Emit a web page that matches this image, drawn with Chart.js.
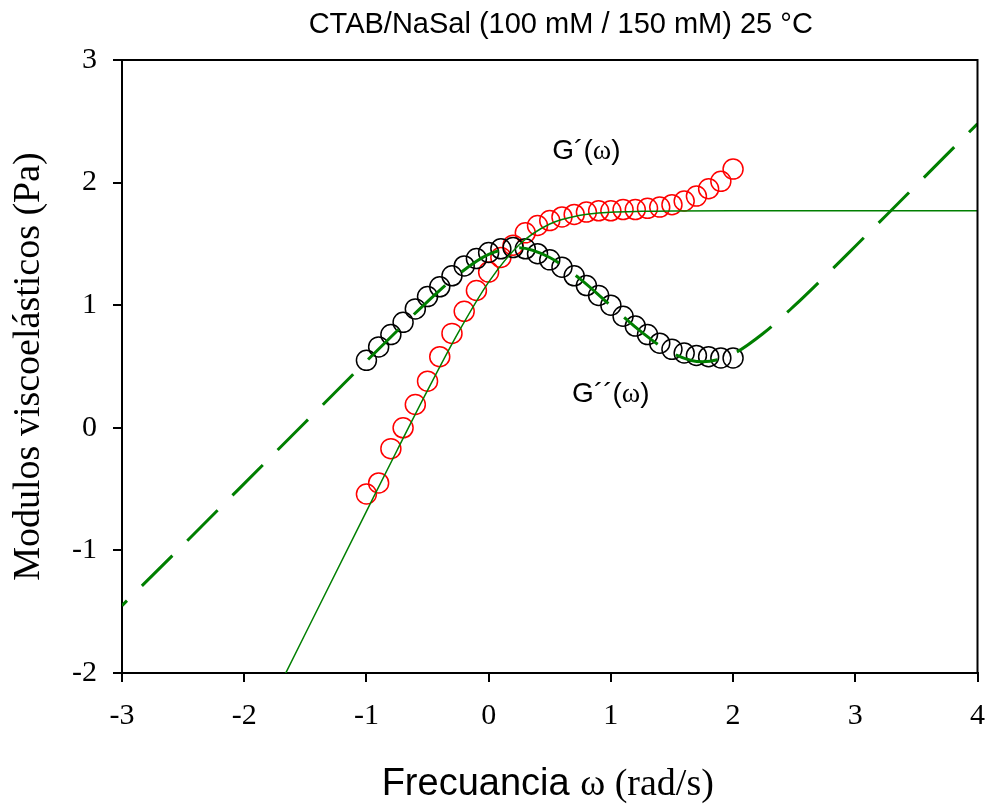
<!DOCTYPE html>
<html>
<head>
<meta charset="utf-8">
<script src="https://cdn.jsdelivr.net/npm/chart.js@4"></script>
<style>
  html, body { margin: 0; padding: 0; background: #fff; }
  #wrap { width: 989px; height: 807px; position: relative; }
</style>
</head>
<body>
<div id="wrap"><canvas id="chart"></canvas></div>
<script>
// log10 frecuencia (puntos experimentales)
const omega = [-1.0, -0.9, -0.8, -0.7, -0.6, -0.5, -0.4, -0.3, -0.2, -0.1,
               0.0, 0.1, 0.2, 0.3, 0.4, 0.5, 0.6, 0.7, 0.8, 0.9,
               1.0, 1.1, 1.2, 1.3, 1.4, 1.5, 1.6, 1.7, 1.8, 1.9, 2.0];
// G' (rojo)
const gPrime = [-0.54, -0.45, -0.17, 0.00, 0.19, 0.38, 0.58, 0.77, 0.95, 1.12,
                1.27, 1.39, 1.49, 1.59, 1.65, 1.69, 1.72, 1.74, 1.76, 1.77,
                1.77, 1.78, 1.78, 1.79, 1.80, 1.82, 1.85, 1.89, 1.95, 2.01, 2.11];
// G'' (negro)
const gDouble = [0.55, 0.66, 0.76, 0.86, 0.97, 1.07, 1.15, 1.24, 1.32, 1.38,
                 1.43, 1.46, 1.47, 1.46, 1.42, 1.37, 1.31, 1.24, 1.16, 1.08,
                 1.00, 0.91, 0.83, 0.76, 0.69, 0.64, 0.61, 0.59, 0.58, 0.57, 0.57];

// ajuste G'' (linea discontinua)
const fitX = [-3, -2.5, -2, -1.5, -1, -0.75, -0.5, -0.25, 0, 0.25, 0.5, 0.75,
              1, 1.25, 1.5, 1.75, 2, 2.25, 2.5, 2.75, 3, 3.25, 3.5, 3.75, 4];
const fitGDouble = [-1.45, -0.955, -0.455, 0.045, 0.544, 0.79, 1.03, 1.249, 1.414, 1.469, 1.389, 1.213,
                    0.996, 0.782, 0.61, 0.538, 0.603, 0.773, 0.994, 1.234, 1.481, 1.73, 1.98, 2.23, 2.48];
// ajuste G' (linea fina)
const fitX2 = [-2, -1.5, -1, -0.75, -0.5, -0.25, 0, 0.25, 0.5, 0.75, 1, 1.25, 1.5, 2, 3, 4];
const fitGPrime = [-2.68, -1.68, -0.682, -0.185, 0.305, 0.774, 1.188, 1.493, 1.662, 1.733,
                   1.758, 1.766, 1.769, 1.77, 1.77, 1.77];

const xTicks = [-3, -2, -1, 0, 1, 2, 3, 4];
const yTicks = [-2, -1, 0, 1, 2, 3];

const SANS = '"Liberation Sans", Arial, sans-serif';
const SERIF = '"Liberation Serif", "Times New Roman", serif';

const pts = (xs, ys) => xs.map((x, i) => ({ x: x, y: ys[i] }));

// dibuja texto con varias fuentes en una linea
function drawRuns(ctx, runs, x, y, align) {
    let total = 0;
    runs.forEach(r => { ctx.font = r.font; total += ctx.measureText(r.text).width; });
    let cx = align === 'center' ? x - total / 2 : x;
    ctx.textAlign = 'left';
    ctx.textBaseline = 'alphabetic';
    runs.forEach(r => {
        ctx.font = r.font;
        ctx.fillText(r.text, cx, y);
        cx += ctx.measureText(r.text).width;
    });
}

const textPlugin = {
    id: 'textos',
    afterDraw(chart) {
        const ctx = chart.ctx;
        const a = chart.chartArea;
        const sx = chart.scales.x, sy = chart.scales.y;
        ctx.save();
        ctx.fillStyle = '#000';

        // marco superior y derecho
        ctx.strokeStyle = '#000';
        ctx.lineWidth = 2;
        ctx.beginPath();
        ctx.moveTo(a.left - 9, a.top);
        ctx.lineTo(a.right, a.top);
        ctx.lineTo(a.right, a.bottom);
        ctx.stroke();

        // titulo
        drawRuns(ctx, [{ text: 'CTAB/NaSal (100 mM / 150 mM) 25 °C', font: '29px ' + SANS }],
                 (a.left + a.right) / 2 + 11, 33, 'center');

        // titulo eje x
        drawRuns(ctx, [
            { text: 'Frecuancia ', font: '38px ' + SANS },
            { text: 'ω (rad/s)', font: '38px ' + SERIF }
        ], (a.left + a.right) / 2 - 2, 795, 'center');

        // titulo eje y
        ctx.save();
        ctx.translate(39, (a.top + a.bottom) / 2);
        ctx.rotate(-Math.PI / 2);
        drawRuns(ctx, [{ text: 'Modulos viscoelásticos (Pa)', font: '38px ' + SERIF }], 0, 0, 'center');
        ctx.restore();

        // etiquetas de curvas
        drawRuns(ctx, [
            { text: 'G´(', font: '28px ' + SANS },
            { text: 'ω', font: '28px ' + SERIF },
            { text: ')', font: '28px ' + SANS }
        ], sx.getPixelForValue(0.8), sy.getPixelForValue(2.19), 'center');
        drawRuns(ctx, [
            { text: 'G´´(', font: '28px ' + SANS },
            { text: 'ω', font: '28px ' + SERIF },
            { text: ')', font: '28px ' + SANS }
        ], sx.getPixelForValue(1.0), sy.getPixelForValue(0.21), 'center');
        ctx.restore();
    }
};

new Chart(document.getElementById('chart'), {
    type: 'scatter',
    data: {
        datasets: [
            {
                label: "ajuste G''",
                data: pts(fitX, fitGDouble),
                showLine: true,
                borderColor: '#007f00',
                borderWidth: 3,
                borderDash: [43, 21],
                borderDashOffset: 36,
                pointRadius: 0,
                cubicInterpolationMode: 'monotone',
                order: 0
            },
            {
                label: "ajuste G'",
                data: pts(fitX2, fitGPrime),
                showLine: true,
                borderColor: '#007f00',
                borderWidth: 1.5,
                pointRadius: 0,
                cubicInterpolationMode: 'monotone',
                order: 0
            },
            {
                label: "G''",
                data: pts(omega, gDouble),
                showLine: false,
                pointStyle: 'circle',
                pointRadius: 10,
                pointBorderWidth: 1.5,
                pointBorderColor: '#000',
                pointBackgroundColor: 'rgba(0,0,0,0)',
                order: 1
            },
            {
                label: "G'",
                data: pts(omega, gPrime),
                showLine: false,
                pointStyle: 'circle',
                pointRadius: 10,
                pointBorderWidth: 1.5,
                pointBorderColor: '#ff0000',
                pointBackgroundColor: 'rgba(0,0,0,0)',
                order: 1
            }
        ]
    },
    options: {
        responsive: true,
        maintainAspectRatio: false,
        animation: false,
        layout: { padding: { top: 60, right: 0, left: 0, bottom: 0 } },
        plugins: {
            legend: { display: false },
            tooltip: { enabled: false },
            title: { display: false }
        },
        scales: {
            x: {
                type: 'linear',
                min: -3,
                max: 4,
                afterBuildTicks: s => { s.ticks = xTicks.map(v => ({ value: v })); },
                afterFit: s => { s.height = 134; s.paddingRight = 11; s.paddingLeft = 0; },
                grid: { drawOnChartArea: false, drawTicks: true, tickLength: 9, color: '#000', lineWidth: 2 },
                border: { display: true, color: '#000', width: 2 },
                ticks: {
                    color: '#000',
                    padding: 16,
                    maxRotation: 0,
                    font: { family: SERIF, size: 30 }
                }
            },
            y: {
                type: 'linear',
                min: -2,
                max: 3,
                afterBuildTicks: s => { s.ticks = yTicks.map(v => ({ value: v })); },
                afterFit: s => { s.width = 122; },
                grid: { drawOnChartArea: false, drawTicks: true, tickLength: 9, color: '#000', lineWidth: 2 },
                border: { display: true, color: '#000', width: 2 },
                ticks: {
                    color: '#000',
                    padding: 16,
                    font: { family: SERIF, size: 30 }
                }
            }
        }
    },
    plugins: [textPlugin]
});
</script>
</body>
</html>
